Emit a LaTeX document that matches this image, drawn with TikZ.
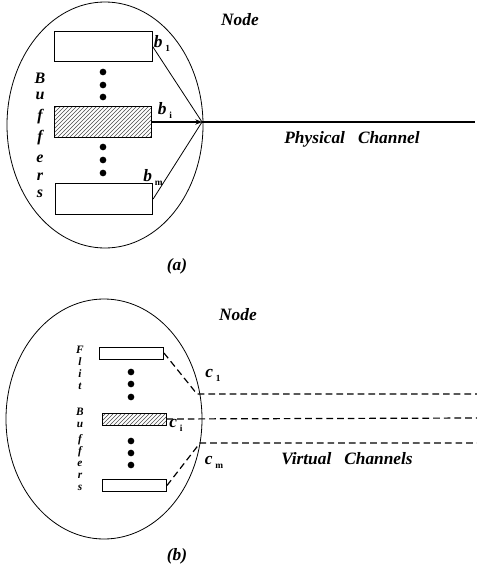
\documentclass[tikz,border=0pt]{standalone}
\usepackage{fontspec}
\setmainfont{Liberation Serif}
\usetikzlibrary{patterns, arrows.meta}

\tikzset{
    lab/.style={font=\fontsize{13}{15}\selectfont\bfseries\itshape, inner sep=1pt},
    letter/.style={font=\fontsize{12}{13}\selectfont\bfseries\itshape, inner sep=0pt},
    smallletter/.style={font=\fontsize{8.5}{9}\selectfont\bfseries\itshape, inner sep=0pt},
    bigbuf/.style={draw, line width=0.7pt, minimum width=73pt, minimum height=23pt, inner sep=0pt},
    smallbuf/.style={draw, line width=0.7pt, minimum width=48pt, minimum height=9pt, inner sep=0pt},
    hatched/.style={pattern=north east lines, pattern color=black!70},
    vc/.style={dashed, line width=0.9pt, dash pattern=on 5pt off 3pt},
    dot/.style={circle, fill, minimum size=5pt, inner sep=0pt}
}

\begin{document}
\begin{tikzpicture}[x=0.75pt, y=-0.75pt]
        \useasboundingbox (0,0) rectangle (477,571);

        % (a) Node with buffers on one physical channel
        \draw[line width=0.6pt] (105,125) ellipse [x radius=98, y radius=123];
        \node[lab] (nodea) at (240,20) {Node};

        \node[bigbuf] (b1) at (103.5,46.5) {};
        \node[bigbuf, hatched] (bi) at (103,122) {};
        \node[bigbuf] (bm) at (104,199) {};

        \foreach \y [count=\k] in {72,85,97,147,160,173}
            \node[dot] (da\k) at (103,\y) {};

        \foreach \c/\y [count=\k] in {B/78,u/96,f/117,f/138,e/159,r/177,s/194}
            \node[letter] (la\k) at (40,\y) {\c};

        \coordinate (pa) at (202,122);
        \coordinate (pend) at (475,122);

        \draw[line width=0.6pt] (b1.east) -- (pa);
        \draw[line width=0.6pt] (bm.east) -- (pa);
        \draw[line width=1.3pt, -{Stealth[length=5pt, width=4pt]}] (bi.east) -- (pa);
        \draw[line width=1.3pt] (pa) -- (pend);

        \node[lab] (lb1) at (162,43) {b\,\raisebox{-0.5ex}{\upshape\scriptsize 1}};
        \node[lab] (lbi) at (165,110) {b\,\raisebox{-0.5ex}{\upshape\scriptsize i}};
        \node[lab] (lbm) at (153,177) {b\,\raisebox{-0.5ex}{\upshape\scriptsize m}};
        \node[lab] (phys) at (352,139) {Physical\ \ \ Channel};
        \node[lab] (capa) at (177,266) {(a)};

        % (b) Node with flit buffers on virtual channels
        \draw[line width=0.6pt] (104,419) ellipse [x radius=98, y radius=120];
        \node[lab] (nodeb) at (238,315) {Node};

        \node[smallbuf] (f1) at (131.5,353) {};
        \node[smallbuf, hatched] (fi) at (134,419) {};
        \node[smallbuf] (fm) at (134.5,485.5) {};

        \foreach \y [count=\k] in {372,384,397,441,453,465}
            \node[dot] (db\k) at (131,\y) {};

        \foreach \c/\y [count=\k] in {F/350,l/362,i/374,t/386,B/412,u/425,f/440,f/452,e/464,r/476,s/488}
            \node[smallletter] (lb\k) at (80,\y) {\c};

        \coordinate (c1) at (197,394);
        \coordinate (cm) at (200,443);
        \coordinate (e1) at (477,394);
        \coordinate (ei) at (477,418);
        \coordinate (em) at (477,443);

        \draw[vc] (f1.east) -- (c1) -- (e1);
        \draw[vc] (fi.east) -- (ei);
        \draw[vc] (fm.east) -- (cm) -- (em);

        \node[lab] (lc1) at (213,375) {c\,\raisebox{-0.5ex}{\upshape\scriptsize 1}};
        \node[lab] (lci) at (176,425) {c\,\raisebox{-0.5ex}{\upshape\scriptsize i}};
        \node[lab] (lcm) at (214,462) {c\,\raisebox{-0.5ex}{\upshape\scriptsize m}};
        \node[lab] (virt) at (347,459) {Virtual\ \ \ Channels};
        \node[lab] (capb) at (177,556) {(b)};
\end{tikzpicture}
\end{document}
